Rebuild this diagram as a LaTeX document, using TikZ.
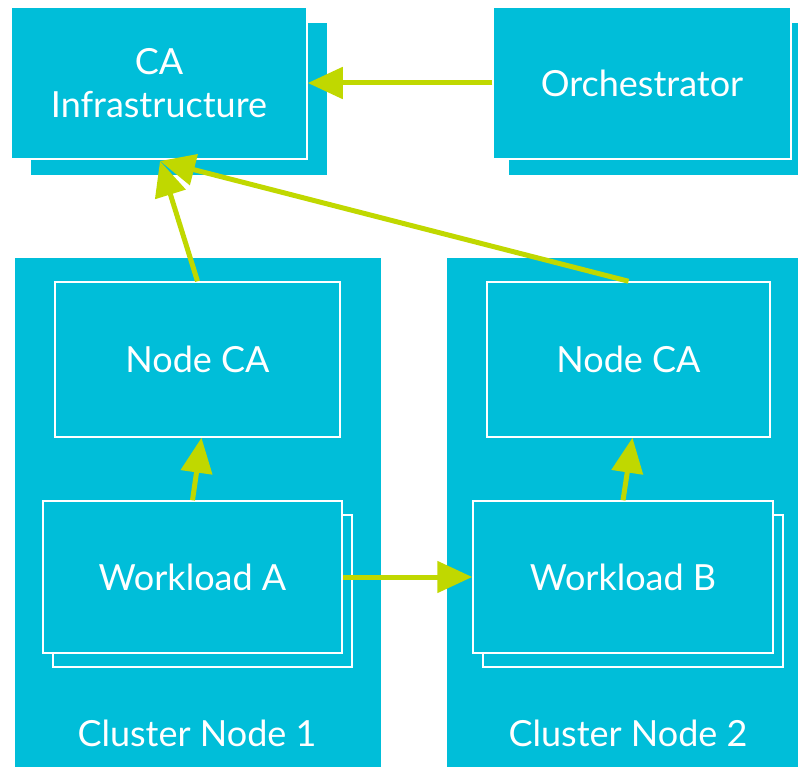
\documentclass[tikz,border=0pt]{standalone}
\usepackage{fontspec}
\setmainfont{Lato}
\usetikzlibrary{arrows.meta}
\definecolor{boxcyan}{RGB}{0,190,217}
\definecolor{arrowgreen}{RGB}{192,216,0}
\tikzset{
  box/.style={draw=white, line width=1.5pt, fill=boxcyan, inner sep=0pt, align=center, text=white, font=\fontsize{36}{43}\selectfont},
  backbox/.style={fill=boxcyan, inner sep=0pt},
  cluster/.style={fill=boxcyan, inner sep=0pt},
  lbl/.style={text=white, font=\fontsize{36}{43}\selectfont},
  conn/.style={draw=arrowgreen, line width=5pt, -{Triangle[length=35pt,width=31pt]}}
}
\begin{document}
\begin{tikzpicture}[x=1pt,y=-1pt]
\useasboundingbox (0,0) rectangle (798,767);
\clip (0,0) rectangle (798,767);
% top boxes
\node[backbox, minimum width=296pt, minimum height=152pt] (cab) at (179,99) {};
\node[box, minimum width=296pt, minimum height=152pt] (ca) at (159,83) {CA\\Infrastructure};
\node[backbox, minimum width=298pt, minimum height=152pt] (orb) at (658,99) {};
\node[box, minimum width=298pt, minimum height=152pt] (orch) at (642,83) {Orchestrator};
% clusters
\node[cluster, minimum width=366pt, minimum height=530pt] (cl1) at (198,523) {};
\node[cluster, minimum width=366pt, minimum height=530pt] (cl2) at (630,523) {};
\node[lbl] (cl1t) at (197,733) {Cluster Node 1};
\node[lbl] (cl2t) at (628,733) {Cluster Node 2};
% node CAs
\node[box, minimum width=285pt, minimum height=155pt] (nca1) at (197.5,359.5) {Node CA};
\node[box, minimum width=283pt, minimum height=155pt] (nca2) at (628.5,359.5) {Node CA};
% workloads
\node[box, minimum width=299pt, minimum height=152pt] (wab) at (202.5,591) {};
\node[box, minimum width=299pt, minimum height=152pt] (wa) at (192.5,577) {Workload A};
\node[box, minimum width=300pt, minimum height=152pt] (wbb) at (633,591) {};
\node[box, minimum width=300pt, minimum height=152pt] (wb) at (623,577) {Workload B};
% connectors
\coordinate (catip) at (160,161);
\draw[conn] (orch.west) -- (ca.east);
\draw[conn] (nca1.north) -- (catip);
\draw[conn] (nca2.north) -- (catip);
\draw[conn] (wa.north) -- ([xshift=4pt]nca1.south);
\draw[conn] (wb.north) -- ([xshift=4pt]nca2.south);
\draw[conn] (wa.east) -- (wb.west);
\end{tikzpicture}
\end{document}
